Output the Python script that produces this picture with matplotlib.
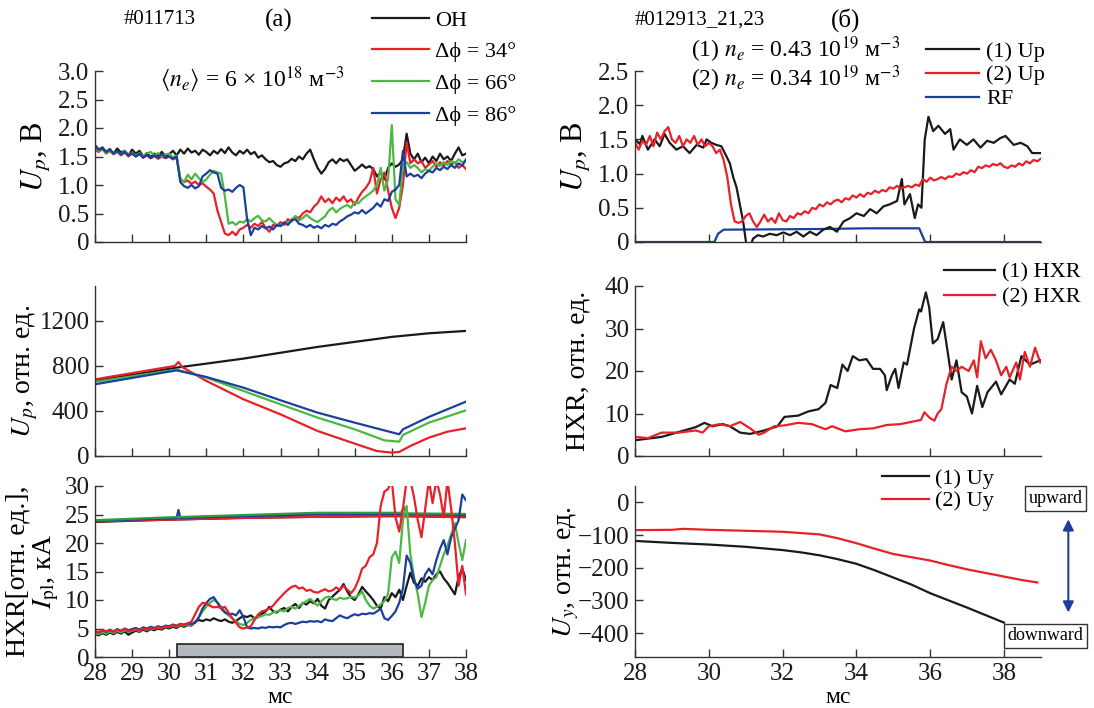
import numpy as np
import matplotlib
matplotlib.use("Agg")
import matplotlib.pyplot as plt
from matplotlib.patches import Rectangle
from matplotlib.lines import Line2D

plt.rcParams['font.family'] = ['Liberation Serif', 'DejaVu Serif']
plt.rcParams['mathtext.fontset'] = 'stix'

# ---------------- data ----------------
t_grid = np.round(np.arange(28.0, 38.01, 0.1), 2)

# (a) top: U_p, V
up_oh = [1.70, 1.62, 1.66, 1.58, 1.63, 1.55, 1.64, 1.57, 1.60, 1.52,
         1.62, 1.55, 1.60, 1.50, 1.56, 1.49, 1.55, 1.51, 1.58, 1.50,
         1.54, 1.60, 1.52, 1.62, 1.55, 1.64, 1.57, 1.60, 1.53, 1.62,
         1.58, 1.52, 1.60, 1.55, 1.63, 1.56, 1.66, 1.57, 1.52, 1.60,
         1.55, 1.62, 1.54, 1.58, 1.48, 1.52, 1.45, 1.40, 1.42, 1.35,
         1.32, 1.38, 1.40, 1.46, 1.42, 1.50, 1.45, 1.55, 1.62, 1.45,
         1.30, 1.20, 1.28, 1.40, 1.45, 1.38, 1.46, 1.42, 1.45, 1.35,
         1.25, 1.30, 1.36, 1.30, 1.33, 1.28, 1.15, 1.22, 1.10, 1.30,
         1.38, 1.32, 1.36, 1.45, 1.90, 1.55, 1.45, 1.55, 1.40, 1.48,
         1.38, 1.50, 1.42, 1.55, 1.45, 1.50, 1.42, 1.55, 1.66, 1.52, 1.55]
up_34 = [1.62, 1.58, 1.64, 1.55, 1.60, 1.54, 1.58, 1.52, 1.57, 1.50,
         1.55, 1.50, 1.54, 1.48, 1.52, 1.47, 1.51, 1.46, 1.50, 1.47,
         1.50, 1.45, 1.48, 1.10, 1.05, 1.08, 1.02, 1.06, 1.00, 1.03,
         0.97, 0.92, 0.85, 0.55, 0.35, 0.15, 0.12, 0.18, 0.12, 0.22,
         0.25, 0.30, 0.25, 0.32, 0.28, 0.35, 0.25, 0.18, 0.30, 0.28,
         0.35, 0.30, 0.40, 0.36, 0.45, 0.42, 0.50, 0.55, 0.52, 0.62,
         0.68, 0.80, 0.70, 0.76, 0.68, 0.78, 0.72, 0.80, 0.70, 0.75,
         0.65, 0.78, 0.88, 0.95, 1.05, 1.30, 0.85, 1.10, 1.22, 0.90,
         0.60, 0.42, 0.60, 1.00, 1.75, 1.38, 1.45, 1.38, 1.42, 1.30,
         1.36, 1.42, 1.32, 1.40, 1.34, 1.42, 1.36, 1.40, 1.30, 1.35, 1.28]
up_66 = [1.65, 1.60, 1.62, 1.56, 1.60, 1.55, 1.58, 1.54, 1.60, 1.53,
         1.57, 1.52, 1.56, 1.50, 1.55, 1.58, 1.52, 1.56, 1.50, 1.54,
         1.55, 1.48, 1.52, 1.12, 1.05, 1.18, 1.10, 1.20, 1.12, 1.05,
         1.10, 1.18, 1.25, 1.22, 1.20, 0.80, 0.32, 0.35, 0.30, 0.36,
         0.34, 0.40, 0.36, 0.42, 0.46, 0.38, 0.36, 0.42, 0.35, 0.30,
         0.28, 0.35, 0.32, 0.40, 0.45, 0.38, 0.42, 0.48, 0.42, 0.38,
         0.35, 0.40, 0.45, 0.55, 0.60, 0.52, 0.58, 0.62, 0.65, 0.60,
         0.70, 0.68, 0.75, 0.80, 0.85, 0.90, 1.00, 1.30, 0.90, 1.10,
         2.05, 0.75, 0.65, 1.35, 1.40, 1.30, 1.35, 1.30, 1.22, 1.28,
         1.25, 1.32, 1.38, 1.33, 1.40, 1.35, 1.42, 1.38, 1.45, 1.40, 1.42]
up_86 = [1.68, 1.62, 1.64, 1.58, 1.62, 1.55, 1.60, 1.54, 1.58, 1.52,
         1.56, 1.50, 1.55, 1.48, 1.53, 1.47, 1.52, 1.48, 1.55, 1.48,
         1.50, 1.46, 1.50, 1.05, 0.98, 0.95, 1.00, 0.94, 0.98, 1.15,
         1.20, 1.26, 1.22, 1.20, 0.95, 0.90, 0.92, 0.88, 0.95, 1.00,
         0.96, 0.40, 0.12, 0.25, 0.22, 0.28, 0.24, 0.27, 0.22, 0.30,
         0.28, 0.34, 0.30, 0.38, 0.40, 0.32, 0.30, 0.26, 0.30, 0.25,
         0.28, 0.24, 0.30, 0.27, 0.32, 0.30, 0.36, 0.40, 0.45, 0.48,
         0.52, 0.50, 0.56, 0.50, 0.55, 0.60, 0.68, 0.62, 0.75, 0.72,
         0.88, 0.92, 1.00, 1.60, 1.15, 1.20, 1.15, 1.18, 1.12, 1.20,
         1.25, 1.22, 1.30, 1.26, 1.32, 1.28, 1.35, 1.30, 1.38, 1.34, 1.45]

# (a) middle: U_p, rel. units (smooth)
t_mid_oh = [28, 30.2, 32, 34, 36, 37, 38]
mid_oh = [667, 785, 865, 969, 1058, 1090, 1111]
t_mid_34 = [28, 30.15, 30.25, 30.35, 31, 32, 33, 34, 35, 35.6, 36.0, 36.2, 36.5, 37, 37.5, 38]
mid_34 = [681, 800, 835, 790, 667, 504, 370, 222, 110, 44, 30, 36, 89, 163, 216, 246]
t_mid_66 = [28, 30.2, 31, 32, 33, 34, 35, 35.8, 36.2, 36.3, 37, 38]
mid_66 = [658, 767, 696, 578, 459, 341, 237, 139, 127, 187, 296, 406]
t_mid_86 = [28, 30.2, 31, 32, 33, 34, 35, 36.2, 36.3, 37, 38]
mid_86 = [637, 761, 702, 607, 495, 385, 296, 193, 237, 347, 483]

# (a) bottom: HXR (rel. units) and I_pl (kA)
hxr_oh = [4.0, 3.8, 4.2, 3.9, 4.3, 4.0, 4.4, 4.1, 4.5, 3.9,
          4.3, 4.6, 4.4, 4.8, 4.5, 4.9, 4.7, 5.0, 4.8, 5.2,
          5.0, 5.3, 5.1, 5.5, 5.3, 5.6, 5.5, 6.2, 6.5, 6.3,
          6.6, 6.4, 6.8, 6.5, 6.3, 6.6, 6.2, 6.0, 6.3, 6.8,
          7.2, 7.0, 7.3, 6.8, 7.0, 7.6, 8.0, 8.8, 8.0, 7.8,
          8.3, 8.6, 8.0, 8.8, 9.3, 8.6, 9.5, 9.2, 9.8, 9.4,
          10.2, 9.0, 8.5, 10.0, 10.6, 11.2, 11.8, 12.8, 11.5, 10.5,
          10.0, 11.0, 12.3, 11.5, 10.8, 10.0, 9.0, 8.5, 10.5, 9.8,
          11.2, 10.5, 11.8, 10.0, 12.5, 14.8, 13.0, 12.5, 13.8, 13.2,
          14.0, 13.5, 14.5, 15.0, 13.8, 13.0, 12.0, 11.0, 14.0, 15.5, 13.5]
hxr_34 = [4.6, 4.3, 4.8, 4.5, 4.7, 4.4, 4.8, 4.6, 4.9, 4.5,
          4.7, 4.9, 4.6, 5.0, 4.8, 5.1, 4.9, 5.3, 5.0, 5.4,
          5.3, 5.6, 5.4, 5.8, 5.6, 5.9, 6.2, 7.5, 8.8, 9.5,
          9.4, 9.0, 8.7, 8.8, 8.6, 8.8, 7.8, 6.8, 6.0, 5.2,
          5.0, 5.2, 5.4, 6.5, 7.5, 8.0, 8.2, 8.5, 9.0, 9.8,
          10.5, 11.2, 11.8, 12.3, 12.5, 12.0, 12.2, 11.6, 11.8, 11.4,
          11.3, 11.6, 11.9, 11.5, 11.7, 12.2, 11.8, 12.5, 11.8, 11.2,
          12.0, 13.5, 15.5, 16.0, 17.5, 18.0, 20.0, 26.5, 29.0, 29.5,
          31.0, 24.5, 22.0, 26.0, 31.0, 31.0, 28.0, 24.0, 21.0, 26.0,
          31.0, 27.0, 31.0, 28.5, 24.5, 31.0, 26.0, 20.0, 12.5, 16.0, 11.0]
hxr_66 = [4.2, 4.0, 4.4, 4.1, 4.5, 4.2, 4.6, 4.3, 4.7, 4.4,
          4.6, 4.8, 4.5, 5.0, 4.7, 5.1, 4.9, 5.2, 5.0, 5.4,
          5.2, 5.5, 5.3, 5.6, 5.5, 5.7, 5.6, 6.0, 7.0, 8.0,
          8.8, 9.5, 10.0, 9.6, 8.8, 8.0, 7.3, 6.8, 6.2, 5.8,
          5.6, 6.0, 6.5, 6.8, 7.0, 7.2, 7.5, 7.4, 7.8, 8.0,
          8.2, 8.0, 8.6, 8.8, 8.5, 9.0, 9.4, 9.8, 10.2, 9.6,
          9.0, 9.8, 10.4, 10.6, 10.2, 10.0, 10.4, 10.2, 10.3, 10.6,
          10.4, 10.8, 11.5, 10.0, 9.0, 8.5, 8.8, 9.2, 9.8, 11.0,
          17.5, 18.5, 16.5, 24.0, 26.5, 18.0, 14.0, 11.0, 7.0, 9.5,
          12.5, 13.5, 14.0, 16.0, 18.0, 19.5, 21.5, 23.5, 20.0, 17.0, 20.5]
hxr_86 = [4.5, 4.3, 4.7, 4.4, 4.8, 4.5, 4.9, 4.6, 5.0, 4.7,
          4.9, 5.1, 4.8, 5.2, 5.0, 5.3, 5.1, 5.4, 5.2, 5.5,
          5.4, 5.7, 5.5, 5.8, 5.7, 5.9, 5.8, 6.0, 7.0, 8.5,
          9.5, 10.2, 10.5, 9.5, 8.5, 7.8, 7.5, 7.6, 7.3, 8.2,
          7.0, 5.2, 5.0, 5.1, 5.0, 5.2, 5.1, 5.3, 5.2, 5.3,
          5.2, 5.6, 5.9, 6.0, 5.8, 6.0, 6.2, 6.1, 6.3, 6.2,
          6.3, 6.1, 6.6, 6.4, 6.3, 6.8, 7.3, 7.0, 6.8, 7.2,
          7.5, 7.3, 7.6, 7.5, 7.7, 7.6, 8.0, 8.5, 6.8, 6.5,
          7.2, 8.0, 9.5, 12.0, 17.8, 16.5, 13.5, 12.0, 12.5, 14.5,
          15.5, 14.5, 17.0, 19.0, 20.5, 18.0, 21.0, 22.5, 24.0, 28.5, 27.5]

t_ipl = [28, 30, 32, 34, 36, 38]
ipl_oh = [23.7, 24.1, 24.4, 24.6, 24.7, 24.6]
ipl_34 = [23.8, 24.1, 24.4, 24.6, 24.8, 24.5]
t_ipl_66 = [28, 30, 32, 34, 36, 36.25, 36.32, 36.4, 38]
ipl_66 = [24.0, 24.5, 24.9, 25.3, 25.3, 25.3, 26.3, 25.2, 25.1]
t_ipl_86 = [28, 30, 30.2, 30.25, 30.3, 32, 34, 36, 38]
ipl_86 = [23.9, 24.3, 24.4, 25.8, 24.4, 24.7, 25.0, 25.1, 24.9]

rf_window = (30.2, 36.3)   # RF pulse, grey bar

# (b) top: U_p, V
t_r_up1 = [28.0, 28.13, 28.2, 28.35, 28.53, 28.67, 28.8, 28.94, 29.12, 29.3,
           29.48, 29.67, 29.85, 29.94, 30.07, 30.2, 30.34, 30.48, 30.57, 30.66,
           30.75, 30.84, 30.93, 31.02, 31.1, 31.2, 31.33, 31.47, 31.65, 31.84,
           32.02, 32.2, 32.38, 32.56, 32.74, 32.92, 33.1, 33.28, 33.47, 33.65,
           33.83, 34.0, 34.2, 34.37, 34.55, 34.73, 34.9, 35.1, 35.23, 35.3,
           35.45, 35.58, 35.67, 35.76, 35.85, 35.95, 36.08, 36.22, 36.4, 36.54,
           36.63, 36.8, 36.99, 37.17, 37.36, 37.54, 37.72, 37.9, 38.04, 38.26,
           38.45, 38.63, 38.76, 38.9, 39.0]
r_up1 = [1.50, 1.43, 1.55, 1.35, 1.50, 1.40, 1.58, 1.45, 1.35, 1.40,
         1.30, 1.42, 1.38, 1.50, 1.45, 1.42, 1.40, 1.25, 1.15, 0.95,
         0.80, 0.55, 0.30, -0.05, -0.10, 0.05, 0.10, 0.08, 0.12, 0.10,
         0.14, 0.10, 0.15, 0.08, 0.15, 0.10, 0.18, 0.22, 0.15, 0.30,
         0.35, 0.42, 0.38, 0.48, 0.42, 0.52, 0.55, 0.60, 0.92, 0.55,
         0.70, 0.35, 0.55, 0.50, 1.50, 1.83, 1.62, 1.70, 1.58, 1.65,
         1.35, 1.50, 1.42, 1.50, 1.38, 1.48, 1.45, 1.52, 1.55, 1.42,
         1.45, 1.40, 1.30, 1.30, 1.30]
t_r_up2 = np.round(np.arange(28.0, 39.01, 0.1), 2)
r_up2 = [1.45, 1.35, 1.48, 1.42, 1.55, 1.40, 1.60, 1.50, 1.62, 1.68,
         1.50, 1.45, 1.55, 1.40, 1.50, 1.45, 1.55, 1.42, 1.50, 1.40,
         1.45, 1.40, 1.30, 1.35, 1.20, 0.95, 0.55, 0.30, 0.28, 0.30,
         0.38, 0.42, 0.30, 0.22, 0.30, 0.40, 0.30, 0.35, 0.28, 0.42,
         0.32, 0.30, 0.38, 0.35, 0.42, 0.40, 0.45, 0.42, 0.50, 0.48,
         0.55, 0.52, 0.58, 0.55, 0.60, 0.62, 0.58, 0.64, 0.62, 0.68,
         0.65, 0.70, 0.66, 0.72, 0.70, 0.75, 0.72, 0.76, 0.74, 0.80,
         0.78, 0.82, 0.78, 0.80, 0.82, 0.80, 0.84, 0.82, 0.92, 0.88,
         0.94, 0.90, 0.92, 0.95, 0.92, 0.96, 0.95, 1.00, 0.98, 1.02,
         1.00, 1.05, 1.02, 1.10, 1.08, 1.12, 1.10, 1.14, 1.12, 1.15,
         1.10, 1.08, 1.12, 1.10, 1.15, 1.12, 1.18, 1.15, 1.20, 1.18, 1.22]
t_rf = [28.0, 30.15, 30.25, 30.4, 33.0, 34.3, 35.7, 35.78, 35.86, 39.0]
rf = [0.0, 0.0, 0.12, 0.18, 0.19, 0.20, 0.20, 0.10, 0.0, 0.0]

# (b) middle: HXR, rel. units
t_hxr1 = [28.0, 28.72, 29.65, 29.88, 30.1, 30.38, 30.57, 30.85, 31.12, 31.5,
          31.86, 32.05, 32.42, 32.7, 32.97, 33.16, 33.3, 33.48, 33.62, 33.76,
          33.9, 34.08, 34.27, 34.45, 34.64, 34.77, 34.82, 34.96, 35.05, 35.14,
          35.28, 35.37, 35.56, 35.7, 35.75, 35.88, 35.97, 36.07, 36.2, 36.35,
          36.48, 36.58, 36.71, 36.85, 36.99, 37.13, 37.27, 37.41, 37.55, 37.78,
          37.92, 38.15, 38.29, 38.47, 38.7, 38.98]
hxr1 = [3.7, 4.5, 6.8, 7.8, 7.0, 7.5, 7.0, 5.5, 5.2, 6.0,
        7.0, 9.2, 9.5, 10.5, 11.0, 12.5, 16.7, 16.0, 21.5, 20.0,
        23.5, 22.5, 22.8, 20.5, 20.5, 19.0, 15.5, 19.0, 20.5, 16.0,
        22.0, 21.5, 30.0, 34.5, 34.0, 38.5, 35.0, 26.5, 27.5, 31.5,
        24.0, 18.0, 22.5, 15.0, 14.0, 10.0, 16.5, 11.5, 15.0, 17.5,
        14.5, 18.0, 17.0, 23.5, 21.5, 22.5]
t_hxr2 = [28.0, 28.35, 28.72, 29.18, 29.65, 29.83, 30.0, 30.3, 30.57, 30.85,
          31.12, 31.35, 31.5, 31.77, 32.05, 32.42, 32.79, 33.16, 33.34, 33.7,
          34.08, 34.45, 34.82, 35.19, 35.47, 35.75, 35.84, 35.98, 36.11, 36.2,
          36.3, 36.44, 36.58, 36.71, 36.85, 37.04, 37.18, 37.27, 37.37, 37.5,
          37.64, 37.78, 37.92, 38.06, 38.15, 38.33, 38.43, 38.56, 38.7, 38.84, 38.98]
hxr2 = [4.5, 4.2, 5.5, 5.5, 6.0, 5.5, 7.0, 7.5, 7.0, 8.0,
        6.5, 5.0, 5.5, 7.0, 7.2, 7.8, 7.5, 6.3, 7.0, 5.8,
        6.3, 6.5, 7.3, 7.5, 8.0, 8.5, 10.3, 9.0, 8.3, 10.0,
        11.0, 17.0, 21.0, 20.0, 21.0, 20.0, 22.5, 18.5, 27.0, 23.0,
        25.0, 22.5, 19.0, 21.0, 18.5, 22.0, 18.0, 24.5, 21.0, 25.5, 22.0]

# (b) bottom: U_y, rel. units
t_uy1 = [28, 29, 30, 31, 32, 32.5, 33, 33.5, 34, 34.5, 35, 35.5, 36, 36.5, 37, 37.5, 38]
uy1 = [-118, -124, -129, -136, -146, -153, -162, -174, -188, -208, -230, -252, -278, -300, -322, -345, -368]
t_uy2 = [28, 29, 29.3, 30, 31, 32, 32.5, 33, 33.5, 34, 34.5, 35, 35.5, 36, 36.5, 37, 37.5, 38, 38.5, 38.9]
uy2 = [-85, -84, -81, -84, -87, -90, -94, -98, -110, -125, -142, -158, -168, -178, -192, -205, -216, -227, -238, -245]

# ---------------- styling ----------------
BLACK = '#1a1a1a'
RED = '#e8202a'
GREEN = '#4cb843'
BLUE = '#1c3f9e'
LW = 1.6
TICK_FS = 18
LAB_FS = 20
LEG_FS = 16

W, H = 1094, 708
fig = plt.figure(figsize=(W / 100, H / 100), dpi=100)


def rect(x0, x1, y0, y1):
    return [x0 / W, 1 - y1 / H, (x1 - x0) / W, (y1 - y0) / H]


LX = (95, 466)
RX = (635, 1041)
ROWS = [(71, 242), (286, 456), (486, 657)]


def style(ax):
    for s in ('top', 'right'):
        ax.spines[s].set_visible(False)
    for s in ('left', 'bottom'):
        ax.spines[s].set_color('#333333')
        ax.spines[s].set_linewidth(1.0)
    ax.tick_params(direction='in', length=6, width=1.0, colors='#333333',
                   labelcolor='#1a1a1a', labelsize=TICK_FS, pad=4)


def ylab(ax, text, px, x0, x1, fs=LAB_FS):
    ax.set_ylabel(text, fontsize=fs, linespacing=1.05, va='center')
    ax.yaxis.set_label_coords((px - x0) / (x1 - x0), 0.5)


def ftext(px, py, s, fs, **kw):
    fig.text(px / W, 1 - py / H, s, fontsize=fs, ha='center', va='center', **kw)


# ---- (a) top
ax1 = fig.add_axes(rect(*LX, *ROWS[0]))
style(ax1)
ax1.plot(t_grid, up_oh, color=BLACK, lw=LW)
ax1.plot(t_grid, up_34, color=RED, lw=LW)
ax1.plot(t_grid, up_66, color=GREEN, lw=LW)
ax1.plot(t_grid, up_86, color=BLUE, lw=LW)
ax1.set_xlim(28, 38)
ax1.set_ylim(0, 3.0)
ax1.set_xticks(range(28, 39))
ax1.set_yticks([0, 0.5, 1.0, 1.5, 2.0, 2.5, 3.0])
ax1.set_yticklabels(['0', '0.5', '1.0', '1.5', '2.0', '2.5', '3.0'])
ax1.tick_params(labelbottom=False)
ylab(ax1, r'$U_p$, В', 36, *LX, fs=22)

# ---- (a) middle
ax2 = fig.add_axes(rect(*LX, *ROWS[1]))
style(ax2)
ax2.plot(t_mid_oh, mid_oh, color=BLACK, lw=LW)
ax2.plot(t_mid_34, mid_34, color=RED, lw=LW)
ax2.plot(t_mid_66, mid_66, color=GREEN, lw=LW)
ax2.plot(t_mid_86, mid_86, color=BLUE, lw=LW)
ax2.set_xlim(28, 38)
ax2.set_ylim(0, 1510)
ax2.set_xticks(range(28, 39))
ax2.set_yticks([0, 400, 800, 1200])
ax2.tick_params(labelbottom=False)
ylab(ax2, r'$U_p$, отн. ед.', 25, *LX)

# ---- (a) bottom
ax3 = fig.add_axes(rect(*LX, *ROWS[2]))
style(ax3)
ax3.plot(t_ipl, ipl_oh, color=BLACK, lw=LW)
ax3.plot(t_ipl, ipl_34, color=RED, lw=LW)
ax3.plot(t_ipl_86, ipl_86, color=BLUE, lw=LW)
ax3.plot(t_ipl_66, ipl_66, color='#2e9a3a', lw=LW)
ax3.plot(t_grid, hxr_oh, color=BLACK, lw=LW)
ax3.plot(t_grid, hxr_66, color=GREEN, lw=LW)
ax3.plot(t_grid, hxr_86, color=BLUE, lw=LW)
ax3.plot(t_grid, hxr_34, color=RED, lw=LW)
ax3.add_patch(Rectangle((rf_window[0], 0), rf_window[1] - rf_window[0], 2.3,
                        facecolor='#b4b9c1', edgecolor='#222222', lw=1.2, zorder=3))
ax3.set_xlim(28, 38)
ax3.set_ylim(0, 30)
ax3.set_xticks(range(28, 39))
ax3.set_yticks([0, 5, 10, 15, 20, 25, 30])
ax3.set_xlabel('мс', fontsize=17, labelpad=2)
ylab(ax3, 'HXR[отн. ед.],\n' + r'$I_{\rm pl}$, кА', 33, *LX)

# ---- (b) top
ax4 = fig.add_axes(rect(*RX, *ROWS[0]))
style(ax4)
ax4.plot(t_rf, rf, color=BLUE, lw=LW)
ax4.plot(t_r_up1, r_up1, color=BLACK, lw=LW)
ax4.plot(t_r_up2, r_up2, color=RED, lw=LW)
ax4.set_xlim(28, 39)
ax4.set_ylim(0, 2.5)
ax4.set_xticks(range(28, 39, 2))
ax4.set_yticks([0, 0.5, 1.0, 1.5, 2.0, 2.5])
ax4.set_yticklabels(['0', '0.5', '1.0', '1.5', '2.0', '2.5'])
ax4.tick_params(labelbottom=False)
ylab(ax4, r'$U_p$, В', 576, *RX, fs=22)

# ---- (b) middle
ax5 = fig.add_axes(rect(*RX, *ROWS[1]))
style(ax5)
ax5.plot(t_hxr1, hxr1, color=BLACK, lw=LW)
ax5.plot(t_hxr2, hxr2, color=RED, lw=LW)
ax5.set_xlim(28, 39)
ax5.set_ylim(0, 40)
ax5.set_xticks(range(28, 39, 2))
ax5.set_yticks([0, 10, 20, 30, 40])
ax5.tick_params(labelbottom=False)
ylab(ax5, 'HXR, отн. ед.', 578, *RX)

# ---- (b) bottom
ax6 = fig.add_axes(rect(*RX, *ROWS[2]))
style(ax6)
ax6.plot(t_uy1, uy1, color=BLACK, lw=LW)
ax6.plot(t_uy2, uy2, color=RED, lw=LW)
ax6.set_xlim(28, 39)
ax6.set_ylim(-473, 50)
ax6.set_xticks(range(28, 39, 2))
ax6.set_yticks([0, -100, -200, -300, -400])
ax6.set_yticklabels(['0', '−100', '−200', '−300', '−400'])
ax6.set_xlabel('мс', fontsize=17, labelpad=2)
ylab(ax6, r'$U_y$, отн. ед.', 566, *RX)

ax6.text(39.40, 12, 'upward', fontsize=13, ha='center', va='center', clip_on=False,
         bbox=dict(boxstyle='square,pad=0.2', fc='white', ec='#333333', lw=1))
ax6.text(39.12, -408, 'downward', fontsize=13, ha='center', va='center', clip_on=False,
         bbox=dict(boxstyle='square,pad=0.2', fc='white', ec='#333333', lw=1))
ax6.annotate('', xy=(39.74, -52), xytext=(39.74, -337), annotation_clip=False,
             arrowprops=dict(arrowstyle='<|-|>', color=BLUE, lw=1.5,
                             mutation_scale=16, shrinkA=0, shrinkB=0))

# ---------------- legends ----------------
def legend(ax, items, px, py, hl, ls):
    handles = [Line2D([], [], color=c, lw=LW) for c, _ in items]
    labels = [l for _, l in items]
    ax.legend(handles, labels, loc='upper left', bbox_to_anchor=(px / W, 1 - py / H),
              bbox_transform=fig.transFigure, frameon=False, fontsize=LEG_FS,
              handlelength=hl, handletextpad=0.3, labelspacing=ls,
              borderpad=0, borderaxespad=0)


legend(ax1, [(BLACK, 'OH'), (RED, 'Δϕ = 34°'),
             (GREEN, 'Δϕ = 66°'), (BLUE, 'Δϕ = 86°')],
       372, 10, 2.55, 0.5)
legend(ax4, [(BLACK, '(1) Up'), (RED, '(2) Up'), (BLUE, 'RF')], 926, 41, 2.4, 0.15)
legend(ax5, [(BLACK, '(1) HXR'), (RED, '(2) HXR')], 944, 262, 2.3, 0.2)
legend(ax6, [(BLACK, '(1) Uy'), (RED, '(2) Uy')], 882, 468, 2.1, 0.1)

# ---------------- texts ----------------
ftext(160, 20, '#011713', 15)
ftext(279, 20, '(a)', 18)
ftext(252, 79, r'$\langle n_e\rangle$ = 6 × 10$^{18}$ м$^{-3}$', 17)
ftext(700, 20, '#012913_21,23', 15)
ftext(846, 20, '(б)', 18)
ftext(796, 50, r'(1) $n_e$ = 0.43 10$^{19}$ м$^{-3}$', 17)
ftext(796, 79, r'(2) $n_e$ = 0.34 10$^{19}$ м$^{-3}$', 17)

fig.savefig('out.png', dpi=100)
